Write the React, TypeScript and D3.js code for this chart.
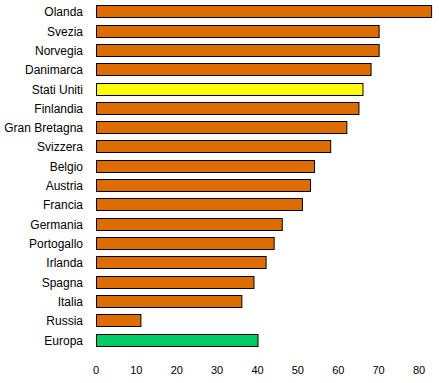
import React from "react";
import * as d3 from "d3";

const categories = ["Olanda","Svezia","Norvegia","Danimarca","Stati Uniti","Finlandia","Gran Bretagna","Svizzera","Belgio","Austria","Francia","Germania","Portogallo","Irlanda","Spagna","Italia","Russia","Europa"];
const values = [83,70,70,68,66,65,62,58,54,53,51,46,44,42,39,36,11,40];
const tickValues = [0,10,20,30,40,50,60,70,80];
const colors: Record<string,string> = { "Stati Uniti": "#FFFF00", "Europa": "#00CC66" };
const defaultColor = "#DD6D00";

export default function App() {
  const W = 439, H = 383;
  const x = d3.scaleLinear().domain([0, 80]).range([96, 419]);
  const step = 19.33;
  const y = d3.scaleBand<string>().domain(categories).range([2.3, 2.3 + step * categories.length]).paddingInner(0.35).paddingOuter(0.175);
  const bh = Math.floor(y.bandwidth());
  return (
    <svg width={W} height={H} style={{ position: "absolute", left: 0, top: 0, background: "#fff" }} fontFamily="'Liberation Sans', Arial, sans-serif">
      {categories.map((c, i) => {
        const yy = Math.floor(y(c)!) + 0.5;
        return (
          <g key={c}>
            <rect x={x(0) + 0.5} y={yy} width={x(values[i]) - x(0)} height={bh} fill={colors[c] || defaultColor} stroke="#000" strokeWidth={1} />
            <text x={83} y={yy + bh / 2} dy="0.35em" textAnchor="end" fontSize={12} fill="#000">{c}</text>
          </g>
        );
      })}
      {tickValues.map(t => (
        <text key={t} x={x(t)} y={370.5} dy="0.35em" textAnchor="middle" fontSize={11} fill="#000">{t}</text>
      ))}
    </svg>
  );
}
